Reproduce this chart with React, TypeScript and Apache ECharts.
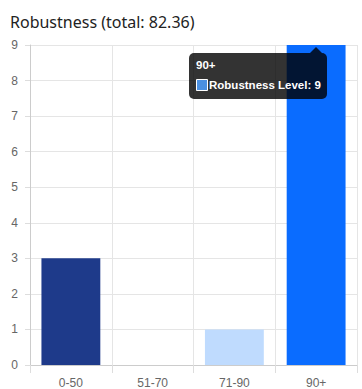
import React, { useEffect, useRef } from "react";
import * as echarts from "echarts";

const categories = ["0-50", "51-70", "71-90", "90+"];
const values = [3, 0, 1, 9];
const barColors = ["#1e3a8a", "#93c5fd", "#bfdbfe", "#0a6cff"];
const titleText = "Robustness (total: 82.36)";
const seriesName = "Robustness Level";
const tooltipCategory = "90+";
const tooltipValue = 9;

export default function App() {
  const ref = useRef<HTMLDivElement>(null);
  useEffect(() => {
    if (!ref.current) return;
    const chart = echarts.init(ref.current, undefined, { renderer: "svg" });
    const tipFont = "bold 11.5px 'Liberation Sans', Arial, sans-serif";
    chart.setOption({
      animation: false,
      title: {
        text: titleText,
        left: 10,
        top: 14,
        padding: 0,
        textStyle: { fontSize: 16, fontWeight: "normal", color: "#222", fontFamily: "Noto Sans" },
      },
      grid: { left: 30, right: 5, top: 45, bottom: 24, containLabel: false },
      xAxis: {
        type: "category",
        data: categories,
        axisLine: { lineStyle: { color: "#ccc" } },
        axisTick: { show: true, length: 8, lineStyle: { color: "#ddd" } },
        splitLine: { show: true, lineStyle: { color: "#e5e5e5" } },
        axisLabel: { color: "#666", fontSize: 12, fontFamily: "Liberation Sans", margin: 12 },
      },
      yAxis: {
        type: "value",
        min: 0,
        max: 9,
        interval: 1,
        axisLine: { show: true, lineStyle: { color: "#ccc" } },
        axisTick: { show: true, length: 5, lineStyle: { color: "#ddd" } },
        splitLine: { show: true, lineStyle: { color: "#e5e5e5" } },
        axisLabel: { color: "#666", fontSize: 12, fontFamily: "Liberation Sans", margin: 12 },
      },
      series: [
        {
          name: seriesName,
          type: "bar",
          z: 2,
          barCategoryGap: "28%",
          data: values.map((v, i) => ({ value: v, itemStyle: { color: barColors[i] } })),
        },
      ],
      graphic: {
        elements: [
          {
            type: "polygon",
            z: 100,
            shape: { points: [[310, 53], [316, 47], [322, 53]] },
            style: { fill: "rgba(0,0,0,0.8)" },
          },
          {
            type: "rect",
            z: 100,
            shape: { x: 189, y: 53, width: 138, height: 46, r: 5 },
            style: { fill: "rgba(0,0,0,0.8)" },
          },
          {
            type: "text",
            z: 101,
            x: 196,
            y: 59,
            style: { text: tooltipCategory, fill: "#fff", font: tipFont },
          },
          {
            type: "rect",
            z: 101,
            shape: { x: 196.5, y: 79.5, width: 11, height: 11 },
            style: { fill: "#4a90e2", stroke: "#fff", lineWidth: 1 },
          },
          {
            type: "text",
            z: 101,
            x: 209,
            y: 79,
            style: { text: seriesName + ": " + tooltipValue, fill: "#fff", font: tipFont },
          },
        ],
      },
    });
    return () => chart.dispose();
  }, []);
  return (
    <div
      ref={ref}
      style={{ position: "fixed", left: 0, top: 0, width: 362, height: 389, background: "#fff" }}
    />
  );
}
